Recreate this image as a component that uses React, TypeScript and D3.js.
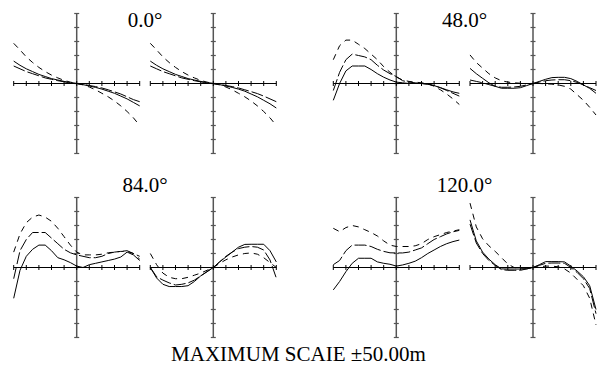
import React from "react";
import * as d3 from "d3";

// pupil coordinate samples (-1 .. 1)
const pupil = [-1, -0.9, -0.8, -0.7, -0.6, -0.5, -0.4, -0.3, -0.2, -0.1, 0, 0.1, 0.2, 0.3, 0.4, 0.5, 0.6, 0.7, 0.8, 0.9, 1];

const fieldTitles = ["0.0°", "48.0°", "84.0°", "120.0°"];
const scaleLabel = "MAXIMUM SCAIE ±50.00m";
const maxScale = 50;

// Each panel: three wavelength curves (A solid, B long dash, C dash)
// 0.0° tangential
const p1A = [16, 13, 10.5, 8.5, 6.5, 5, 3.5, 2.5, 1.5, 0.5, 0, -0.8, -1.8, -2.8, -4, -5.5, -7, -9, -11, -13.5, -16];
const p1B = [12.5, 10.5, 8.5, 7, 5.5, 4, 3, 2, 1.2, 0.5, 0, -0.6, -1.4, -2.2, -3.2, -4.5, -6, -7.5, -9.5, -11.5, -13];
const p1C = [28.7, 24, 19, 15, 11.5, 8.5, 6, 4, 2.2, 1, 0, -1, -2.5, -4.5, -7, -9.5, -12.5, -16, -20, -24.5, -30];
// 0.0° sagittal
const p2A = [16, 13, 10.5, 8.5, 6.5, 5, 3.5, 2.5, 1.5, 0.5, 0, -0.8, -1.8, -2.8, -4, -5.5, -7.5, -9.5, -12, -14.5, -17.5];
const p2B = [12.5, 10.5, 8.5, 7, 5.5, 4, 3, 2, 1.2, 0.5, 0, -0.6, -1.4, -2.2, -3.2, -4.5, -5.8, -7.2, -9, -11, -13];
const p2C = [28.7, 24, 19, 15, 11.5, 8.5, 6, 4, 2.2, 1, 0, -1, -2.5, -4.5, -7, -9.5, -12.5, -16, -20, -24.5, -30];
// 48.0° tangential
const p3A = [-12, 0, 9, 12.5, 12.5, 12.5, 10, 7, 4.5, 2.5, 1, 0.5, 0, 0, 0, -0.5, -1.5, -3, -4.5, -6, -7];
const p3B = [-5, 8, 17, 21, 20, 19, 17, 13, 9.6, 7, 5, 2, 1, 0.5, 0, -0.5, -1.5, -3, -5, -7, -9];
const p3C = [17, 27, 31, 31, 28, 25, 21, 17, 12, 8, 4.6, 2.5, 1.5, 1, 0.5, 0, -2, -4.5, -7.5, -11, -15];
// 48.0° sagittal
const p4A = [10.8, 7, 3.7, 0.5, -2, -3.4, -3.4, -3.4, -3, -1.5, 0, 1.5, 3, 4.2, 4.4, 4.4, 3.5, 1.5, -1, -3.5, -7];
const p4B = [2.5, 1.5, 0.5, -0.8, -2, -2.7, -2.7, -2.5, -2, -1, 0, 1, 2, 2.5, 2.7, 2.7, 2, 0.8, -1, -3, -5];
const p4C = [20.4, 15, 11, 7, 4, 2, 1, 0.5, 0.2, 0, 0, 0, -0.2, -0.5, -1, -2, -4, -8, -12, -17, -22.5];
// 84.0° tangential
const p5A = [-22, -2, 8, 13, 16, 16, 12, 7, 5.5, 3.5, 1, 0, 2, 3, 4, 5, 6, 7.5, 11, 9, 5];
const p5B = [-8, 12, 20, 25, 25, 25, 21, 17, 13, 10.5, 9, 8, 7, 7, 8, 10, 11, 11.5, 12, 10, 8];
const p5C = [11, 24, 32, 36, 37.5, 36, 33, 28, 22, 16, 11, 9, 9, 9, 9.5, 10.5, 11, 11.5, 11.5, 10, 6];
// 84.0° sagittal
const p6A = [0, -7.5, -12, -13.6, -13.6, -13.6, -13, -10, -6, -3, 0, 4, 7.5, 11, 14.5, 16.5, 16.6, 16.6, 16.6, 12, 4];
const p6B = [0, -6.6, -9, -11, -12.5, -12, -11, -9, -6, -3, 0, 4, 8, 11, 13.5, 14.5, 15, 14.5, 12.5, 5.4, -7.5];
const p6C = [10, 2, -4, -7, -8, -8, -7, -5.5, -4, -2, 0, 3, 5.5, 7.5, 9, 10, 10.4, 9.5, 7, 3.5, 0];
// 120.0° tangential
const p7A = [-16, -10, -3, 3, 6.6, 6.6, 6.6, 4, 3, 2.3, 1, 1.8, 3, 4.5, 7, 10, 12.5, 15, 17, 18.5, 19.6];
const p7B = [2, 5, 12, 16, 16, 16, 15, 13, 11.5, 10.5, 10.4, 10.4, 11, 12.5, 14, 17, 20, 22, 24, 25.5, 26.5];
const p7C = [28, 25.6, 28.5, 30, 29, 27, 25, 22.5, 19, 16, 15, 15, 15, 15.5, 17, 20, 22, 23.5, 25, 26, 27];
// 120.0° sagittal
const p8A = [34, 19, 11, 6, 2, -1, -1.1, -1.1, -1.1, -1, 0, 2, 4.2, 4.2, 4.2, 4, 1, -2.5, -6.6, -13, -30];
const p8B = [31, 17.5, 10, 5, 1.5, -1.5, -2, -2, -2, -1, 0, 1.5, 3, 3.2, 3.2, 3, 0, -3.5, -8, -15, -33];
const p8C = [46, 29, 20.5, 15.5, 11.5, 7, 2.5, 0, -0.5, -0.5, 0, 0.5, 1, 1, 0.5, -1, -4, -8.5, -13, -22, -41];

const panelData = [
  [p1A, p1B, p1C], [p2A, p2B, p2C], [p3A, p3B, p3C], [p4A, p4B, p4C],
  [p5A, p5B, p5C], [p6A, p6B, p6C], [p7A, p7B, p7C], [p8A, p8B, p8C],
];

const W = 608;
const H = 365;
const colCenters = [76.7, 213.3, 396.3, 533];
const rowCenters = [83.5, 267.5];
const halfW = 63;
const halfH = 70;
const dashes = [null, "12,3", "6,5"];
const tickVals = d3.range(-1, 1.0001, 0.2);
const yTickVals = d3.range(-maxScale, maxScale + 0.001, 10);
const serif = "'Liberation Serif', 'Times New Roman', Times, serif";

function Panel({ cx, cy, series }: { cx: number; cy: number; series: number[][] }) {
  const x = d3.scaleLinear().domain([-1, 1]).range([cx - halfW, cx + halfW]);
  const y = d3.scaleLinear().domain([-maxScale, maxScale]).range([cy + halfH, cy - halfH]);
  const line = d3.line<number>().x((_, i) => x(pupil[i])).y((d) => y(d));
  return (
    <g>
      <line x1={x(0)} x2={x(0)} y1={y(-maxScale)} y2={y(maxScale)} stroke="#555" strokeWidth={1.5} />
      {yTickVals.map((t, i) => (
        <line key={"yt" + i} x1={x(0) - 2.5} x2={x(0) + 2.5} y1={y(t)} y2={y(t)} stroke="#555" strokeWidth={1.2} />
      ))}
      <line x1={x(-1)} x2={x(1)} y1={y(0)} y2={y(0)} stroke="#000" strokeWidth={1} />
      {tickVals.map((t, i) => (
        <line key={"xt" + i} x1={x(t)} x2={x(t)} y1={y(0) - 2.5} y2={y(0) + 2.5} stroke="#000" strokeWidth={1} />
      ))}
      {series.map((s, i) => (
        <path key={"s" + i} d={line(s) || ""} fill="none" stroke="#000" strokeWidth={1}
          strokeDasharray={dashes[i] || undefined} />
      ))}
    </g>
  );
}

export default function App() {
  return (
    <svg width={W} height={H} style={{ display: "block", position: "absolute", left: 0, top: 0, background: "#fff" }}>
      <rect width={W} height={H} fill="#fff" />
      {panelData.map((series, i) => {
        const row = Math.floor(i / 4);
        const col = i % 4;
        return <Panel key={i} cx={colCenters[col]} cy={rowCenters[row]} series={series} />;
      })}
      {fieldTitles.map((t, i) => {
        const row = Math.floor(i / 2);
        const pair = i % 2;
        const cx = (colCenters[pair * 2] + colCenters[pair * 2 + 1]) / 2;
        const by = row === 0 ? 26.5 : 192;
        return (
          <text key={t} x={cx} y={by} textAnchor="middle" fill="#000"
            style={{ fontFamily: serif, fontSize: "21px" }}>{t}</text>
        );
      })}
      <text x={298.5} y={361} textAnchor="middle" fill="#000"
        style={{ fontFamily: serif, fontSize: "21px" }}>{scaleLabel}</text>
    </svg>
  );
}
